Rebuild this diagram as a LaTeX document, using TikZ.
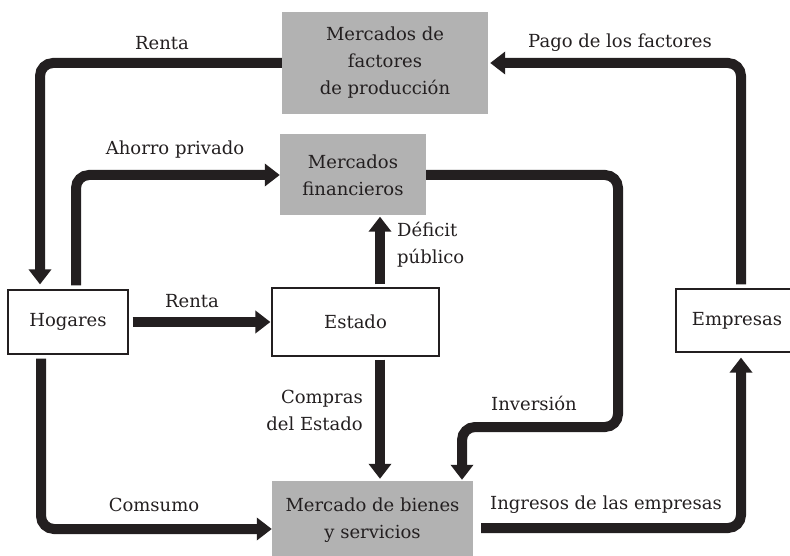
\documentclass[tikz,border=0pt]{standalone}
\usepackage{fontspec}
\setmainfont{DejaVu Serif}
\usetikzlibrary{arrows.meta,calc}
\definecolor{boxgray}{RGB}{178,178,178}
\definecolor{ink}{RGB}{35,31,32}
\begin{document}
\begin{tikzpicture}[x=1pt,y=-1pt,
  every node/.style={font=\fontsize{18}{27}\selectfont, text=ink},
  graybox/.style={fill=boxgray, draw=none, align=center, inner sep=0pt},
  whitebox/.style={draw=ink, line width=1.2pt, fill=white, align=center, inner sep=0pt},
  flow/.style={draw=ink, line width=10pt, rounded corners=13pt, -{Triangle[width=22pt,length=15pt]}},
  lbl/.style={inner sep=0pt, align=center}
]
\useasboundingbox (0,0) rectangle (790,556);

% boxes
\node[graybox, minimum width=206pt, minimum height=102pt] (fact) at (385,63) {Mercados de\\factores\\de producción};
\node[graybox, minimum width=146pt, minimum height=81pt] (fin) at (353,175) {Mercados\\financieros};
\node[whitebox, minimum width=120pt, minimum height=64pt] (hog) at (68,322) {Hogares};
\node[whitebox, minimum width=167pt, minimum height=68pt] (est) at (355.5,322) {Estado};
\node[whitebox, minimum width=118pt, minimum height=63pt, text width=118pt] (emp) at (735,320.5) {\hspace*{4pt}Empresas};
\node[graybox, minimum width=201pt, minimum height=79pt] (bien) at (372.5,520.5) {Mercado de bienes\\y servicios};

% connectors
\draw[flow, shorten >=5pt] (fact.west) -| (hog.north -| 40,0);
\draw[flow] ([yshift=4pt]hog.north -| 76,0) |- (fin.west);
\draw[flow, shorten >=2pt] ([yshift=4pt]emp.north -| 741,0) |- (fact.east);
\draw[flow, shorten >=1pt] (fin.east) -| (618,427) -| (bien.north -| 462,0);
\draw[flow, shorten >=1pt] ([yshift=3pt]est.north -| 380,0) -- (fin.south -| 380,0);
\draw[flow, shorten >=1pt] ([xshift=4pt]hog.east) -- (est.west);
\draw[flow, shorten >=2pt] ([yshift=-3pt]est.south -| 380,0) -- (bien.north -| 380,0);
\draw[flow] ([yshift=-4pt]hog.south -| 41,0) |- (bien.west |- 0,529);
\draw[flow, shorten >=5pt] ([xshift=8pt]bien.east |- 0,528) -| (emp.south -| 741,0);

% labels
\node[lbl] (l1) at (162,43) {Renta};
\node[lbl] (l2) at (175,150) {Ahorro privado};
\node[lbl] (l3) at (620,43) {Pago de los factores};
\node[lbl, align=left, anchor=west] (l4) at (397,245) {Déficit\\público};
\node[lbl] (l5) at (192,301) {Renta};
\node[lbl, align=right, anchor=east] (l6) at (363,410) {Compras\\del Estado};
\node[lbl] (l7) at (154,505) {Comsumo};
\node[lbl] (l8) at (534,403) {Inversión};
\node[lbl] (l9) at (606,505) {Ingresos de las empresas};
\end{tikzpicture}
\end{document}
